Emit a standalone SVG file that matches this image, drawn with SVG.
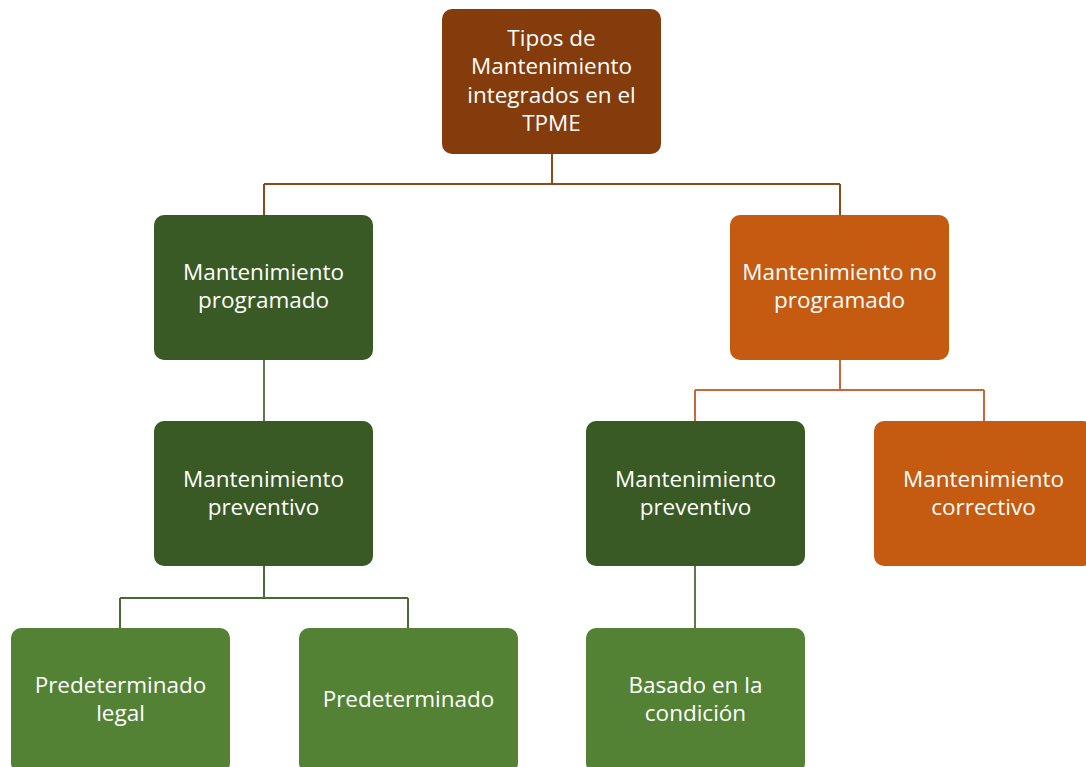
<svg xmlns="http://www.w3.org/2000/svg" width="1086" height="767" viewBox="0 0 1086 767">
<style>
.n{stroke:none}
.brown{fill:#843C0C}
.dg{fill:#3A5A25}
.or{fill:#C55A11}
.lg{fill:#548235}
text{font-family:"Open Sans","Liberation Sans",sans-serif;font-size:22.5px;fill:#FFFFFF;text-anchor:middle}
.c{fill:none;stroke-width:2}
</style>
<rect width="1086" height="767" fill="#FFFFFF"/>
<g id="connectors">
<path class="c" stroke="#8B4A1E" d="M552 154V184M264 184H840M264 184V215M840 184V215"/>
<path class="c" stroke="#5E7A4A" d="M264 360V421"/>
<path class="c" stroke="#C8683A" d="M840 360V390M695 390H984M695 390V421M984 390V421"/>
<path class="c" stroke="#4A6A35" d="M264 566V598M120 598H408M120 598V628M408 598V628"/>
<path class="c" stroke="#5E7A4A" d="M695 566V628"/>
</g>
<g id="n-root">
<rect class="n brown" x="442" y="9" width="219" height="145" rx="10"/>
<text x="551.5" y="46">Tipos de</text>
<text x="551.5" y="74">Mantenimiento</text>
<text x="551.5" y="103">integrados en el</text>
<text x="551.5" y="131">TPME</text>
</g>
<g id="n-prog">
<rect class="n dg" x="154" y="215" width="219" height="145" rx="10"/>
<text x="263.5" y="280">Mantenimiento</text>
<text x="263.5" y="308">programado</text>
</g>
<g id="n-noprog">
<rect class="n or" x="730" y="215" width="219" height="145" rx="10"/>
<text x="839.5" y="280">Mantenimiento no</text>
<text x="839.5" y="308">programado</text>
</g>
<g id="n-prev-left">
<rect class="n dg" x="154" y="421" width="219" height="145" rx="10"/>
<text x="263.5" y="487">Mantenimiento</text>
<text x="263.5" y="515">preventivo</text>
</g>
<g id="n-prev-right">
<rect class="n dg" x="586" y="421" width="219" height="145" rx="10"/>
<text x="695.5" y="487">Mantenimiento</text>
<text x="695.5" y="515">preventivo</text>
</g>
<g id="n-corr">
<rect class="n or" x="874" y="421" width="219" height="145" rx="10"/>
<text x="983.5" y="487">Mantenimiento</text>
<text x="983.5" y="515">correctivo</text>
</g>
<g id="n-legal">
<rect class="n lg" x="11" y="628" width="219" height="145" rx="10"/>
<text x="120.5" y="693">Predeterminado</text>
<text x="120.5" y="721">legal</text>
</g>
<g id="n-pred">
<rect class="n lg" x="299" y="628" width="219" height="145" rx="10"/>
<text x="408.5" y="707">Predeterminado</text>
</g>
<g id="n-cond">
<rect class="n lg" x="586" y="628" width="219" height="145" rx="10"/>
<text x="695.5" y="693">Basado en la</text>
<text x="695.5" y="721">condición</text>
</g>
</svg>
